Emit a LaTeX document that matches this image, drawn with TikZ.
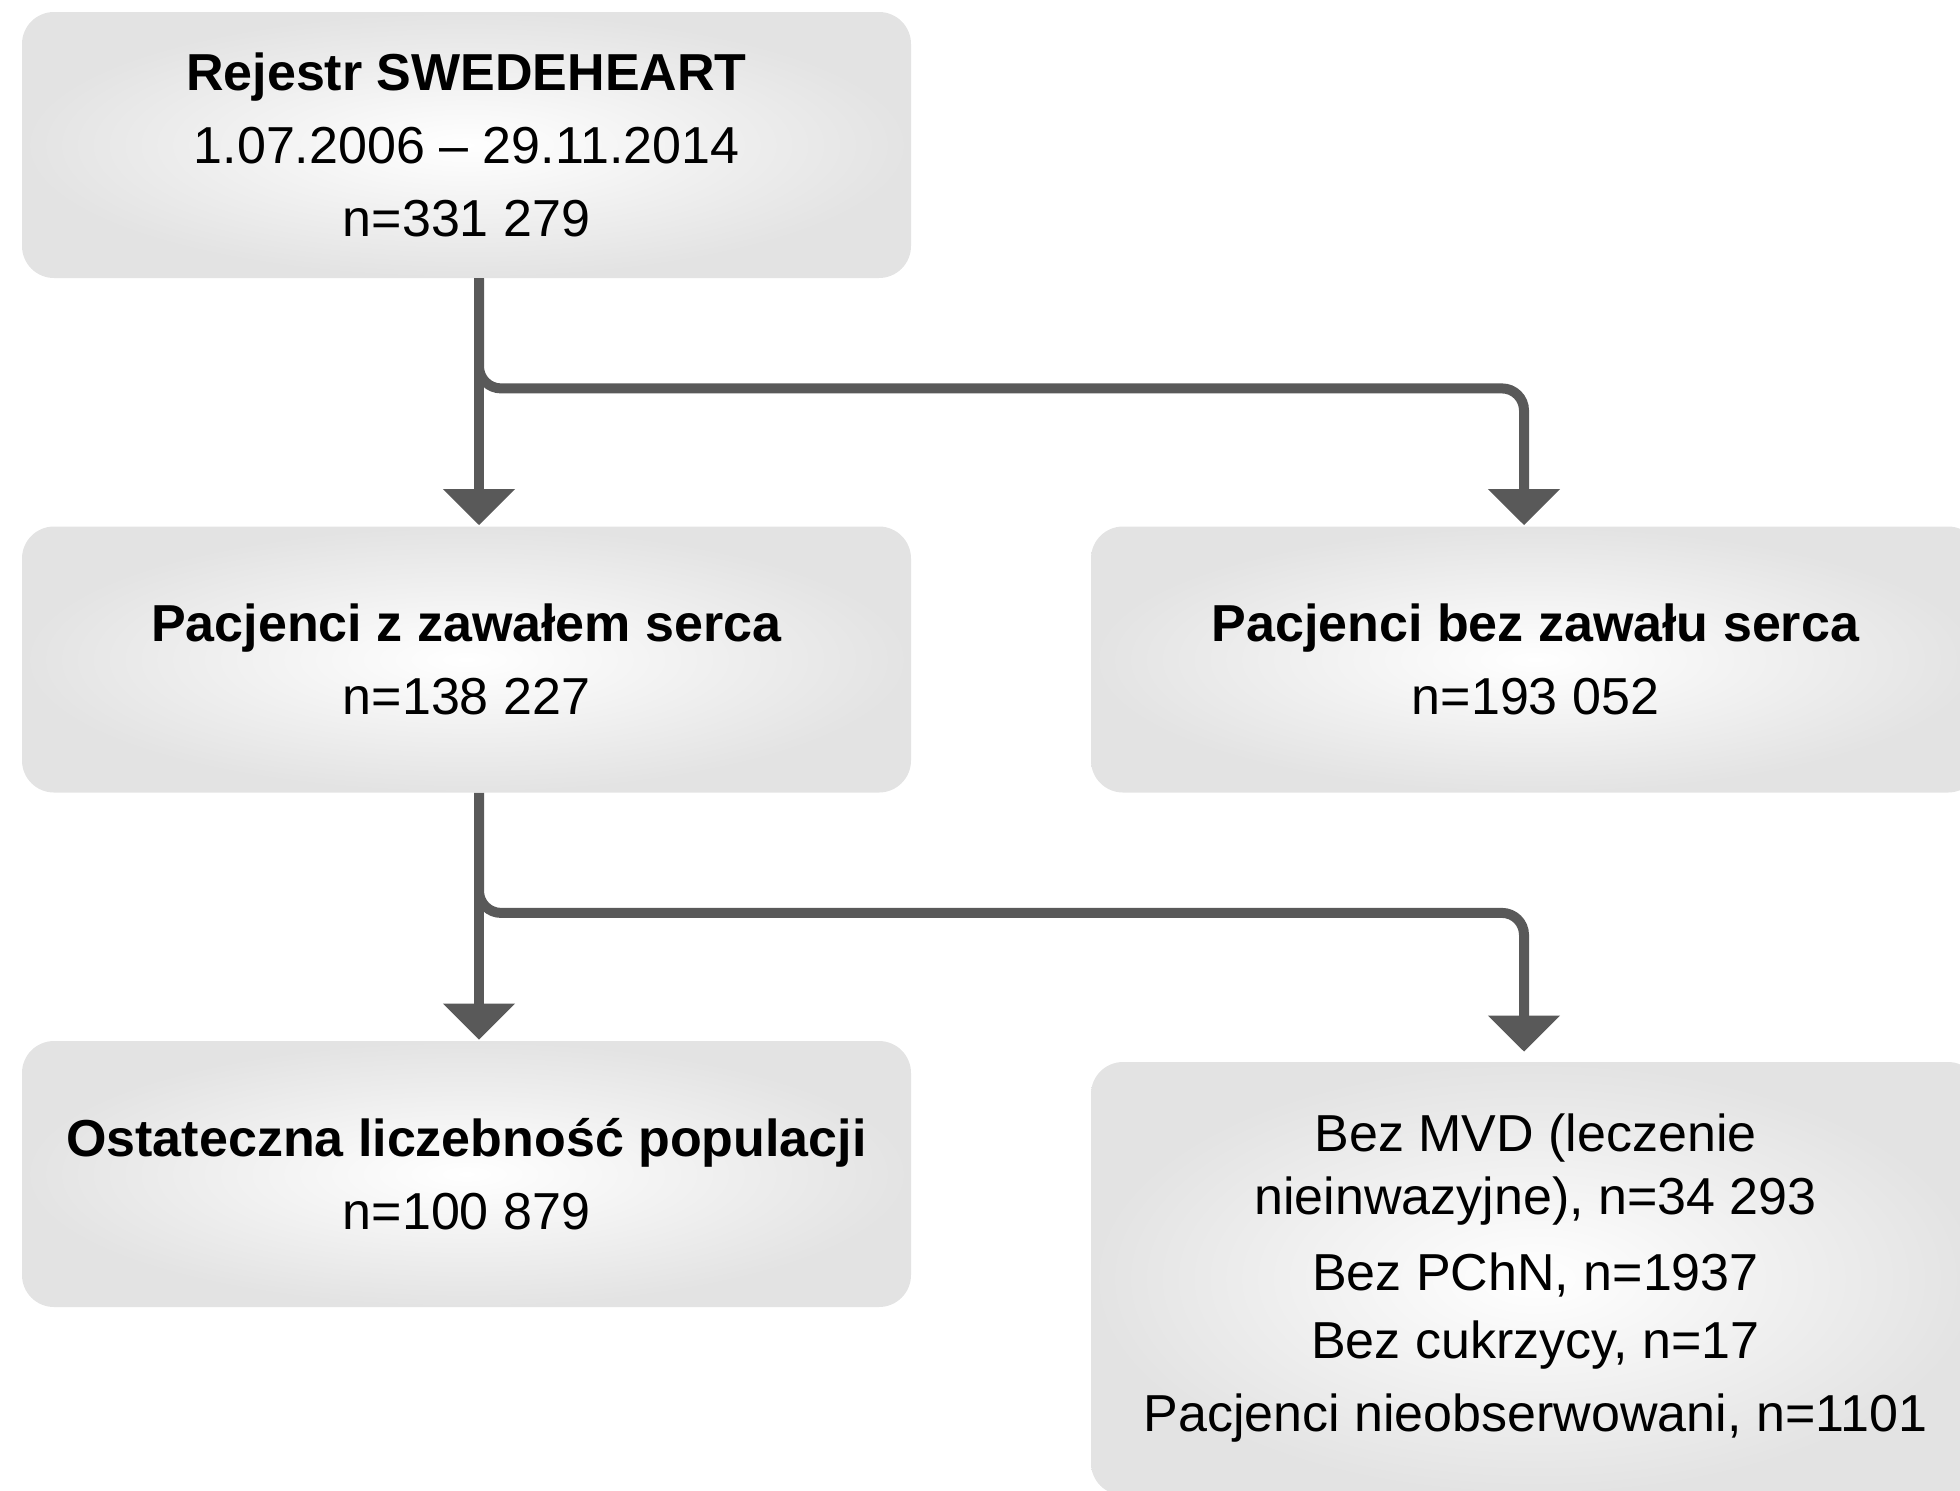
\documentclass[tikz,border=0pt]{standalone}
\usepackage{fontspec}
\setmainfont{Liberation Sans}
\usetikzlibrary{arrows.meta}
\definecolor{conncol}{HTML}{595959}
\definecolor{boxedge}{HTML}{E3E3E3}
\begin{document}
\begin{tikzpicture}[x=0.5pt,y=-0.5pt,
  box/.style={rounded corners=16pt, shading=radial, inner color=white, outer color=boxedge,
    minimum width=444.5pt, minimum height=133pt, inner sep=0pt, align=center,
    font=\fontsize{26}{36.5}\selectfont},
  conn/.style={draw=conncol, line width=5pt, -{Triangle[width=35pt,length=18pt]}}
]
\useasboundingbox (0,0) rectangle (1960,1490);
\clip (0,0) rectangle (1960,1490);

\node[box] (b1) at (466.5,145) {\textbf{Rejestr SWEDEHEART}\\1.07.2006 – 29.11.2014\\n=331 279};
\node[box] (b2) at (466.5,659.5) {\textbf{Pacjenci z zawałem serca}\\n=138 227};
\node[box] (b3) at (1535.5,659.5) {\textbf{Pacjenci bez zawału serca}\\n=193 052};
\node[box] (b4) at (466.5,1174) {\textbf{Ostateczna liczebność populacji}\\n=100 879};
\node[box, minimum height=216.5pt] (b5) at (1535.5,1278.5) {Bez MVD (leczenie\\[-5pt]nieinwazyjne), n=34 293\\[1.5pt]Bez PChN, n=1937\\[-2.5pt]Bez cukrzycy, n=17\\[0pt]Pacjenci nieobserwowani, n=1101};

\draw[conn] ([xshift=6.25pt]b1.south) -- ([xshift=6.25pt,yshift=0.5pt]b2.north);
\draw[conn, rounded corners=11pt] ([xshift=6.25pt]b1.south) -- ++(0,110) -| ([xshift=-5.75pt,yshift=0.5pt]b3.north);

\draw[conn] ([xshift=6.25pt]b2.south) -- ([xshift=6.25pt,yshift=0.5pt]b4.north);
\draw[conn, rounded corners=11pt] ([xshift=6.25pt]b2.south) -- ++(0,120) -| ([xshift=-5.75pt,yshift=5pt]b5.north);
\end{tikzpicture}
\end{document}
